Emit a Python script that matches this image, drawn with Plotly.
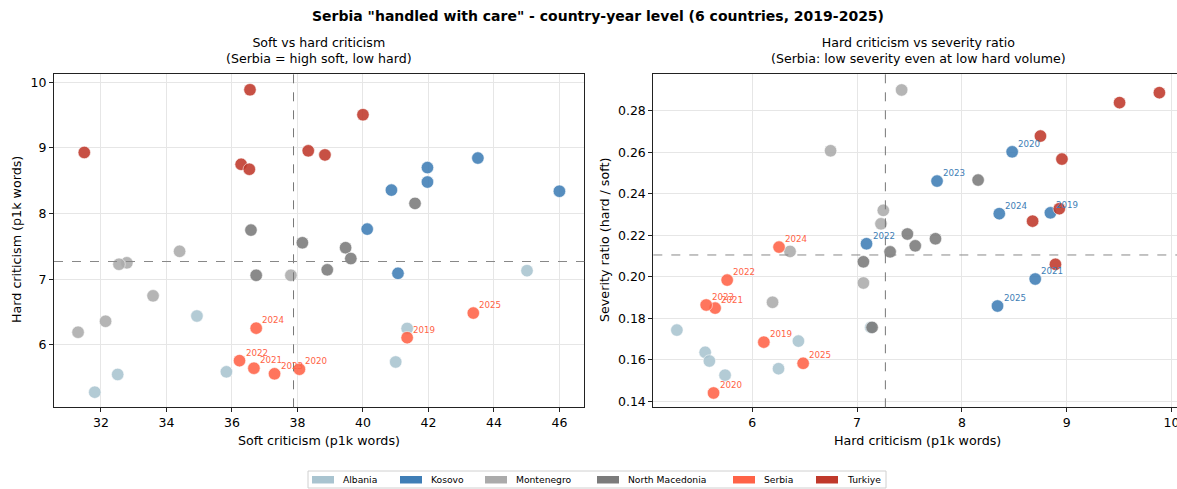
import plotly.graph_objects as go

W, H = 1186, 489

countries = ["Albania", "Kosovo", "Montenegro", "North Macedonia", "Serbia", "Turkiye"]
colors = ["#a9c4d0", "#3f7eb6", "#ababab", "#7b7b7b", "#ff6347", "#c0392b"]
years = [2019, 2020, 2021, 2022, 2023, 2024, 2025]

# soft criticism (p1k words), hard criticism (p1k words), severity ratio
albania_soft = [31.81, 32.51, 35.83, 41.00, 41.35, 34.93, 45.01]
albania_hard = [5.28, 5.55, 5.59, 5.74, 6.25, 6.44, 7.13]
albania_ratio = [0.1743, 0.1636, 0.1594, 0.1526, 0.1557, 0.1690, 0.1756]

kosovo_soft = [43.51, 41.97, 41.97, 41.07, 40.13, 40.87, 46.00]
kosovo_hard = [8.845, 8.48, 8.70, 7.09, 7.763, 8.357, 8.34]
kosovo_ratio = [0.2308, 0.2602, 0.1989, 0.2159, 0.2461, 0.2304, 0.1859]

montenegro_soft = [34.40, 32.79, 32.55, 37.80, 33.59, 32.14, 31.30]
montenegro_hard = [7.425, 7.25, 7.228, 7.06, 6.747, 6.36, 6.193]
montenegro_ratio = [0.2900, 0.2320, 0.2255, 0.1970, 0.2607, 0.2122, 0.1877]

macedonia_soft = [41.59, 36.58, 38.15, 39.47, 39.63, 38.91, 36.74]
macedonia_hard = [8.155, 7.748, 7.555, 7.48, 7.315, 7.143, 7.06]
macedonia_ratio = [0.2466, 0.2183, 0.2149, 0.2206, 0.2120, 0.1756, 0.2072]

serbia_soft = [41.35, 38.06, 36.67, 36.23, 37.30, 36.74, 43.37]
serbia_hard = [6.11, 5.63, 5.645, 5.76, 5.56, 6.255, 6.485]
serbia_ratio = [0.1685, 0.1440, 0.1849, 0.1984, 0.1864, 0.2143, 0.1583]

turkiye_soft = [31.49, 36.55, 36.28, 36.53, 38.33, 38.84, 40.00]
turkiye_hard = [8.93, 9.885, 8.75, 8.675, 8.955, 8.893, 9.505]
turkiye_ratio = [0.2328, 0.2887, 0.2678, 0.2268, 0.2567, 0.2060, 0.2839]

soft = [albania_soft, kosovo_soft, montenegro_soft, macedonia_soft, serbia_soft, turkiye_soft]
hard = [albania_hard, kosovo_hard, montenegro_hard, macedonia_hard, serbia_hard, turkiye_hard]
ratio = [albania_ratio, kosovo_ratio, montenegro_ratio, macedonia_ratio, serbia_ratio, turkiye_ratio]

soft_ref = 37.88
hard_ref = 7.27
ratio_ref = 0.2105

left_labelled = ["Serbia"]
right_labelled = ["Serbia", "Kosovo"]

fig = go.Figure()

for name, col, s, h, r in zip(countries, colors, soft, hard, ratio):
    mk = dict(size=12.5, color=col, opacity=0.88, line=dict(color="white", width=0.6))
    fig.add_trace(go.Scatter(x=s, y=h, mode="markers", marker=mk, name=name,
                             xaxis="x", yaxis="y", showlegend=False, hoverinfo="skip"))
    fig.add_trace(go.Scatter(x=h, y=r, mode="markers", marker=mk, name=name,
                             xaxis="x2", yaxis="y2", showlegend=False, hoverinfo="skip"))

annotations = []
for name, col, s, h, r in zip(countries, colors, soft, hard, ratio):
    if name in left_labelled:
        for yr, a, b in zip(years, s, h):
            annotations.append(dict(x=a, y=b, xref="x", yref="y", text=str(yr),
                                    showarrow=False, xanchor="left", yanchor="middle",
                                    xshift=4, yshift=8, font=dict(size=8.7, color=col)))
    if name in right_labelled:
        for yr, a, b in zip(years, h, r):
            annotations.append(dict(x=a, y=b, xref="x2", yref="y2", text=str(yr),
                                    showarrow=False, xanchor="left", yanchor="middle",
                                    xshift=4, yshift=8, font=dict(size=8.7, color=col)))

def px_x(p):
    return p / W

def px_y(p):
    return 1 - p / H

FONT = "DejaVu Sans"
TXT = "#222222"

# titles
annotations.append(dict(x=px_x(597.5), y=px_y(16), xref="paper", yref="paper",
                        text='<b>Serbia "handled with care" - country-year level (6 countries, 2019-2025)</b>',
                        showarrow=False, xanchor="center", yanchor="middle",
                        font=dict(size=14, color="#000")))
annotations.append(dict(x=px_x(319), y=px_y(68), xref="paper", yref="paper",
                        text="Soft vs hard criticism<br>(Serbia = high soft, low hard)",
                        showarrow=False, xanchor="center", yanchor="bottom",
                        font=dict(size=12.6, color="#000")))
annotations.append(dict(x=px_x(918), y=px_y(68), xref="paper", yref="paper",
                        text="Hard criticism vs severity ratio<br>(Serbia: low severity even at low hard volume)",
                        showarrow=False, xanchor="center", yanchor="bottom",
                        font=dict(size=12.6, color="#000")))
# axis titles
annotations.append(dict(x=px_x(319), y=px_y(440), xref="paper", yref="paper",
                        text="Soft criticism (p1k words)", showarrow=False,
                        xanchor="center", yanchor="middle", font=dict(size=12.7, color="#000")))
annotations.append(dict(x=px_x(917), y=px_y(440), xref="paper", yref="paper",
                        text="Hard criticism (p1k words)", showarrow=False,
                        xanchor="center", yanchor="middle", font=dict(size=12.7, color="#000")))
annotations.append(dict(x=px_x(16), y=px_y(240), xref="paper", yref="paper",
                        text="Hard criticism (p1k words)", showarrow=False, textangle=-90,
                        xanchor="center", yanchor="middle", font=dict(size=12.7, color="#000")))
annotations.append(dict(x=px_x(604), y=px_y(240), xref="paper", yref="paper",
                        text="Severity ratio (hard / soft)", showarrow=False, textangle=-90,
                        xanchor="center", yanchor="middle", font=dict(size=12.7, color="#000")))

R_LEFT, R_RIGHT = 653.3, 1184.0

shapes = [
    dict(type="line", xref="x", yref="paper", x0=soft_ref, x1=soft_ref,
         y0=px_y(407.3), y1=px_y(74), line=dict(color="#777", width=1, dash="dash")),
    dict(type="line", xref="paper", yref="y", x0=px_x(54), x1=px_x(584.3),
         y0=hard_ref, y1=hard_ref, line=dict(color="#888", width=1, dash="dash")),
    dict(type="line", xref="x2", yref="paper", x0=hard_ref, x1=hard_ref,
         y0=px_y(407.3), y1=px_y(74), line=dict(color="#777", width=1, dash="dash")),
    dict(type="line", xref="paper", yref="y2", x0=px_x(R_LEFT), x1=px_x(R_RIGHT),
         y0=ratio_ref, y1=ratio_ref, line=dict(color="#888", width=1, dash="dash")),
]

# legend (manual, rectangular patches)
shapes.append(dict(type="rect", xref="paper", yref="paper", x0=px_x(308), x1=px_x(886),
                   y0=px_y(488), y1=px_y(471), line=dict(color="#d0d0d0", width=1),
                   fillcolor="white"))
sw_left = [312, 400, 485, 597, 733, 816]
for name, col, sl in zip(countries, colors, sw_left):
    shapes.append(dict(type="rect", xref="paper", yref="paper", x0=px_x(sl), x1=px_x(sl + 22),
                       y0=px_y(483.5), y1=px_y(476), line=dict(width=0), fillcolor=col))
    annotations.append(dict(x=px_x(sl + 29), y=px_y(479.5), xref="paper", yref="paper",
                            text=name, showarrow=False, xanchor="left", yanchor="middle",
                            font=dict(size=9.2, color="#000")))

axis_common = dict(showline=True, linecolor="#222", linewidth=1, mirror=True,
                   ticks="outside", ticklen=4, tickcolor="#222", showgrid=True,
                   gridcolor="#e6e6e6", gridwidth=1, zeroline=False,
                   tickfont=dict(size=12.5, color="#000"))

fig.update_layout(
    width=W, height=H,
    margin=dict(l=0, r=0, t=0, b=0),
    paper_bgcolor="white", plot_bgcolor="white",
    font=dict(family=FONT, color=TXT),
    showlegend=False,
    xaxis=dict(domain=[px_x(54), px_x(584.3)], range=[30.565, 46.76], dtick=2, tick0=0,
               anchor="y", automargin=False, **axis_common),
    yaxis=dict(domain=[px_y(407.3), px_y(74)], range=[5.05, 10.125], dtick=1, tick0=0,
               anchor="x", automargin=False, **axis_common),
    xaxis2=dict(domain=[px_x(R_LEFT), px_x(R_RIGHT)], range=[5.055, 10.12], dtick=1, tick0=0,
                anchor="y2", automargin=False, **axis_common),
    yaxis2=dict(domain=[px_y(407.3), px_y(74)], range=[0.1371, 0.2977], dtick=0.02, tick0=0,
                tickformat=".2f", anchor="x2", automargin=False, **axis_common),
    annotations=annotations,
    shapes=shapes,
)

fig.write_html("out.html", config={"displayModeBar": False},
               post_script="document.body.style.margin='0';document.body.style.overflow='hidden';")
